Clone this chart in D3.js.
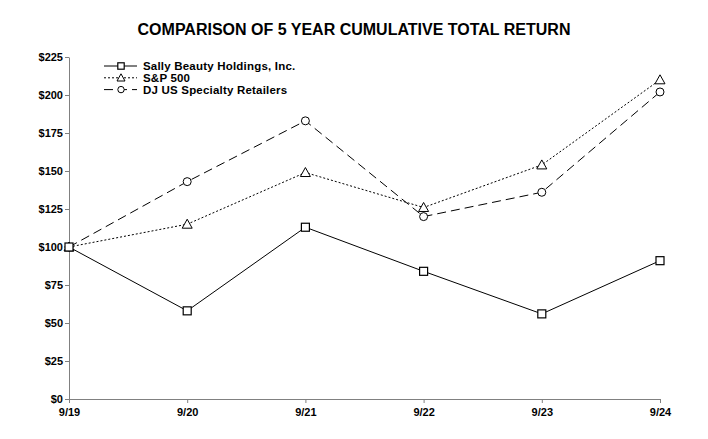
<!DOCTYPE html>
<html>
<head>
<meta charset="utf-8">
<script src="https://d3js.org/d3.v7.min.js"></script>
<style>
  body { margin: 0; background: #fff; }
  text { font-family: "Liberation Sans", Arial, sans-serif; font-weight: bold; }
</style>
</head>
<body>
<script>
// chart data
const years = ["9/19", "9/20", "9/21", "9/22", "9/23", "9/24"];
const sally = [100, 58, 113, 84, 56, 91];
const sp500 = [100, 115, 149, 126, 154, 210];
const djRetail = [100, 143, 183, 120, 136, 202];
const yTicks = [0, 25, 50, 75, 100, 125, 150, 175, 200, 225];

const series = [
  { name: "Sally Beauty Holdings, Inc.", values: sally, dash: null, marker: "square" },
  { name: "S&P 500", values: sp500, dash: "2,2", marker: "triangle" },
  { name: "DJ US Specialty Retailers", values: djRetail, dash: "9,5", marker: "circle" }
];

const W = 708, H = 439;
const margin = { top: 57, right: 48, bottom: 40, left: 69 };

const svg = d3.select("body").append("svg")
  .attr("width", W)
  .attr("height", H);

const x = d3.scalePoint()
  .domain(years)
  .range([margin.left, W - margin.right]);

const y = d3.scaleLinear()
  .domain([0, 225])
  .range([H - margin.bottom, margin.top]);

// title
svg.append("text")
  .attr("x", 354)
  .attr("y", 35)
  .attr("text-anchor", "middle")
  .style("font-size", "16px")
  .text("COMPARISON OF 5 YEAR CUMULATIVE TOTAL RETURN");

// y axis
const yAxis = svg.append("g")
  .attr("transform", "translate(" + margin.left + ",0)")
  .call(d3.axisLeft(y).tickValues(yTicks).tickSize(4).tickSizeOuter(0)
    .tickFormat(d => "$" + d));
yAxis.selectAll("path, line").attr("stroke", "#808080");
yAxis.selectAll("text").style("font-size", "11px").attr("fill", "#000").attr("x", -6);

// x axis
const xAxis = svg.append("g")
  .attr("transform", "translate(0," + y(0) + ")")
  .call(d3.axisBottom(x).tickSize(4).tickSizeOuter(0));
xAxis.selectAll("path, line").attr("stroke", "#808080");
xAxis.selectAll("text").style("font-size", "11px").attr("fill", "#000").attr("dy", "0.95em");

const line = d3.line()
  .x((d, i) => x(years[i]))
  .y(d => y(d));

function drawMarker(g, type, cx, cy, k) {
  k = k || 1;
  if (type === "square") {
    g.append("rect")
      .attr("x", cx - 4 * k).attr("y", cy - 4 * k)
      .attr("width", 8 * k).attr("height", 8 * k)
      .attr("fill", "#fff").attr("stroke", "#000").attr("stroke-width", 1.2);
  } else if (type === "triangle") {
    g.append("path")
      .attr("d", "M" + cx + "," + (cy - 5 * k) + "L" + (cx + 5 * k) + "," + (cy + 4 * k) +
        "L" + (cx - 5 * k) + "," + (cy + 4 * k) + "Z")
      .attr("fill", "#fff").attr("stroke", "#000").attr("stroke-width", 1);
  } else {
    g.append("circle")
      .attr("cx", cx).attr("cy", cy).attr("r", 4 * k)
      .attr("fill", "#fff").attr("stroke", "#000").attr("stroke-width", 1);
  }
}

// lines first, then markers on top
series.forEach(s => {
  svg.append("path")
    .datum(s.values)
    .attr("d", line)
    .attr("fill", "none")
    .attr("stroke", "#000")
    .attr("stroke-width", 1)
    .attr("stroke-dasharray", s.dash);
});

series.slice().reverse().forEach(s => {
  const g = svg.append("g");
  s.values.forEach((v, i) => drawMarker(g, s.marker, x(years[i]), y(v)));
});

// legend
const legend = svg.append("g");
series.forEach((s, i) => {
  const ly = 66 + i * 11.8;
  legend.append("line")
    .attr("x1", 104).attr("x2", 137)
    .attr("y1", ly).attr("y2", ly)
    .attr("stroke", "#000").attr("stroke-width", 1)
    .attr("stroke-dasharray", s.dash);
  drawMarker(legend, s.marker, 121, ly, 0.8);
  legend.append("text")
    .attr("x", 143)
    .attr("y", ly + 4)
    .style("font-size", "11.5px")
    .style("letter-spacing", "0.2px")
    .text(s.name);
});
</script>
</body>
</html>
